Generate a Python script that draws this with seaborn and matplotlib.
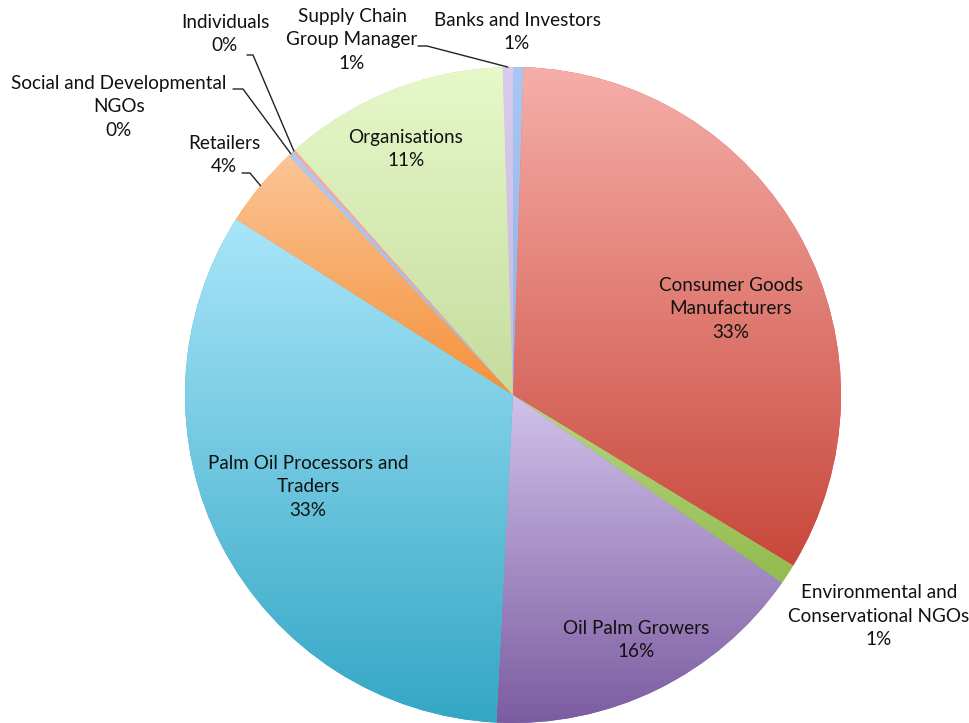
import math
import numpy as np
import matplotlib
matplotlib.use("Agg")
import matplotlib.pyplot as plt
import matplotlib.colors as mcolors
import seaborn as sns

# ---- data (clockwise from 12 o'clock) ----
categories = ["Banks and Investors",
              "Consumer Goods\nManufacturers",
              "Environmental and\nConservational NGOs",
              "Oil Palm Growers",
              "Palm Oil Processors and\nTraders",
              "Retailers",
              "Social and Developmental\nNGOs",
              "Individuals",
              "Organisations",
              "Supply Chain\nGroup Manager"]
values = [1, 66, 2, 32, 66, 8, 0.5, 0.3, 22, 1]

top_colors = ["#aac7f3", "#f6aea9", "#b5d682", "#d0c2e9", "#a9e5f9",
              "#fcc596", "#b0c9ef", "#f4aca7", "#e7f8c9", "#d9ccee"]
bottom_colors = ["#8fb1e6", "#c8473a", "#93bb4e", "#7c5ca1", "#33a7c5",
                 "#f4913a", "#9dbbe9", "#ef9c96", "#c5dc9d", "#c6b6e1"]

# label centres (pixels) and leader anchor points (pixels)
label_px = [(517, 32), (731, 309), (879, 616), (636, 640), (308, 487),
            (224, 155), (119, 107), (225, 34), (406, 149), (352, 40)]
leader_px = {9: [(418, 46), (427, 46)],
             7: [(247, 55), (253, 55)],
             6: [(233, 89), (243, 89)],
             5: [(242, 173), (250, 173)]}

sns.set_theme(style="white")
plt.rcParams["font.family"] = ["Lato", "DejaVu Sans"]

W, H = 969, 723
cx, cy, R = 513, 395, 328
fig = plt.figure(figsize=(W / 100, H / 100), dpi=100)
fig.patch.set_facecolor("white")
ax = fig.add_axes([0, 0, 1, 1])


def px(x, y):
    return ((x - cx) / R, (cy - y) / R)


wedges, _ = ax.pie(values, startangle=90, counterclock=False,
                   colors=bottom_colors, radius=1, center=(0, 0),
                   wedgeprops=dict(linewidth=0))

# vertical gradient fill inside each wedge
t = np.linspace(0, 1, 256)[:, None, None]
for w, ct, cb in zip(wedges, top_colors, bottom_colors):
    ext = w.get_path().get_extents()
    c1 = np.array(mcolors.to_rgb(ct))[None, None, :]
    c2 = np.array(mcolors.to_rgb(cb))[None, None, :]
    img = c1 * (1 - t) + c2 * t
    img = np.repeat(img, 2, axis=1)
    im = ax.imshow(img, extent=(ext.x0, ext.x1, ext.y0, ext.y1),
                   origin="upper", aspect="auto", interpolation="bilinear",
                   zorder=2)
    im.set_clip_path(w)

total = sum(values)
for i, (cat, v, (lx, ly)) in enumerate(zip(categories, values, label_px)):
    pct = math.floor(v / total * 100 + 0.5)
    x, y = px(lx, ly)
    ax.text(x, y, f"{cat}\n{pct}%", ha="center", va="center",
            fontsize=13.6, color="#111111", linespacing=1.47, zorder=5)

for i, pts in leader_px.items():
    w = wedges[i]
    mid = math.radians((w.theta1 + w.theta2) / 2)
    ex, ey = math.cos(mid), math.sin(mid)
    xs = [px(*p)[0] for p in pts] + [ex]
    ys = [px(*p)[1] for p in pts] + [ey]
    ax.plot(xs, ys, color="#222222", lw=1.0, zorder=4)

ax.set_xlim(-cx / R, (W - cx) / R)
ax.set_ylim(-(H - cy) / R, cy / R)
ax.set_aspect("equal", adjustable="datalim")
ax.axis("off")

fig.savefig("out.png", dpi=100, facecolor="white")
